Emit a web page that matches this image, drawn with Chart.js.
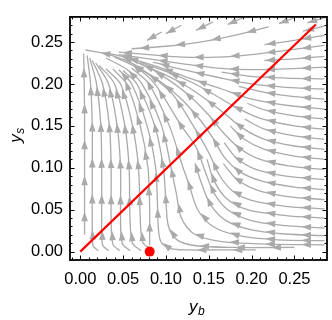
<!DOCTYPE html>
<html>
<head>
<meta charset="utf-8">
<script src="https://cdn.jsdelivr.net/npm/chart.js@4.4.1/dist/chart.umd.min.js"></script>
<style>
  html, body { margin: 0; padding: 0; background: #fff; }
  canvas { display: block; }
</style>
</head>
<body>
<canvas id="chart" width="332" height="320"></canvas>
<script>
// ── Data ─────────────────────────────────────────────────────
const xMajorTicks = [0, 0.05, 0.10, 0.15, 0.20, 0.25];
const yMajorTicks = [0, 0.05, 0.10, 0.15, 0.20, 0.25];
const minorTicks = [-0.01, 0.01, 0.02, 0.03, 0.04, 0.06, 0.07, 0.08, 0.09, 0.11, 0.12, 0.13, 0.14,
                    0.16, 0.17, 0.18, 0.19, 0.21, 0.22, 0.23, 0.24, 0.26, 0.27, 0.28];

const diagonalX = [0, 0.275];
const diagonalY = [0, 0.271];

const markerX = [0.081];
const markerY = [0];

// streamlines, each point list ordered in the flow direction
const risingLines = [
  [[0.005,0.02],[0.005,0.1],[0.005,0.17],[0.004,0.236]],
  [[0.021,0.001],[0.015,0.007],[0.014,0.03],[0.014,0.1],[0.014,0.15],[0.012,0.2],[0.008,0.234]],
  [[0.033,0.001],[0.026,0.008],[0.025,0.04],[0.025,0.1],[0.024,0.15],[0.019,0.2],[0.011,0.231]],
  [[0.046,0.001],[0.038,0.009],[0.036,0.04],[0.036,0.1],[0.034,0.15],[0.026,0.2],[0.014,0.228]],
  [[0.058,0.001],[0.049,0.01],[0.047,0.04],[0.047,0.1],[0.043,0.15],[0.033,0.2],[0.018,0.225]],
  [[0.071,0.001],[0.061,0.01],[0.058,0.04],[0.057,0.1],[0.052,0.15],[0.04,0.2],[0.022,0.222]],
  [[0.084,0.002],[0.073,0.011],[0.07,0.04],[0.068,0.1],[0.061,0.15],[0.047,0.2],[0.03,0.218]],
  [[0.081,0.008],[0.081,0.05],[0.079,0.1],[0.07,0.15],[0.054,0.2],[0.038,0.218]],
];

const bottomLines = [
  [[0.205,0.002],[0.16,0.002],[0.125,0.002],[0.104,0.004],[0.094,0.012],[0.091,0.03],[0.09,0.06],[0.088,0.1],[0.078,0.15],[0.06,0.2],[0.045,0.217]],
  [[0.25,0.005],[0.18,0.005],[0.135,0.007],[0.113,0.014],[0.103,0.03],[0.1,0.06],[0.097,0.1],[0.087,0.15],[0.066,0.2],[0.05,0.216]],
  [[0.285,0.008],[0.22,0.009],[0.165,0.012],[0.133,0.021],[0.118,0.04],[0.112,0.07],[0.106,0.1],[0.095,0.15],[0.072,0.2],[0.055,0.217],[0.03,0.231]],
];

const rightLines = [
  [[0.285,0.013],[0.23,0.014],[0.185,0.019],[0.155,0.03],[0.137,0.05],[0.127,0.08],[0.12,0.1],[0.104,0.15],[0.08,0.2],[0.06,0.219]],
  [[0.285,0.019],[0.24,0.021],[0.2,0.026],[0.17,0.037],[0.152,0.056],[0.142,0.08],[0.134,0.105]],
  [[0.285,0.028],[0.24,0.031],[0.2,0.037],[0.172,0.05],[0.156,0.07],[0.146,0.095],[0.135,0.125],[0.118,0.15],[0.087,0.2],[0.065,0.22],[0.04,0.232]],
  [[0.285,0.04],[0.24,0.043],[0.195,0.05],[0.17,0.064],[0.156,0.085],[0.148,0.11]],
  [[0.285,0.051],[0.24,0.054],[0.2,0.061],[0.177,0.073],[0.162,0.092],[0.15,0.118],[0.132,0.15],[0.11,0.185],[0.09,0.204],[0.07,0.218]],
  [[0.285,0.062],[0.24,0.066],[0.205,0.074],[0.182,0.087],[0.167,0.105]],
  [[0.285,0.074],[0.25,0.077],[0.212,0.084],[0.185,0.096],[0.168,0.113],[0.155,0.135],[0.14,0.157],[0.12,0.18],[0.101,0.197],[0.08,0.212],[0.058,0.226],[0.03,0.236],[0.006,0.2405]],
  [[0.285,0.086],[0.24,0.09],[0.205,0.098],[0.182,0.112],[0.168,0.13]],
  [[0.285,0.098],[0.245,0.102],[0.21,0.11],[0.185,0.124],[0.166,0.143],[0.148,0.165],[0.125,0.188],[0.1,0.207],[0.075,0.222],[0.05,0.232]],
  [[0.285,0.11],[0.25,0.114],[0.215,0.122],[0.19,0.135],[0.175,0.15]],
  [[0.285,0.122],[0.25,0.126],[0.215,0.134],[0.19,0.147],[0.168,0.165],[0.145,0.183],[0.12,0.2],[0.095,0.213],[0.065,0.226]],
  [[0.285,0.134],[0.25,0.138],[0.215,0.146],[0.192,0.158]],
  [[0.285,0.146],[0.25,0.15],[0.21,0.159],[0.18,0.173],[0.155,0.188],[0.13,0.202],[0.1,0.215],[0.07,0.226]],
  [[0.285,0.158],[0.25,0.162],[0.215,0.169],[0.195,0.177]],
  [[0.285,0.17],[0.245,0.174],[0.2,0.182],[0.165,0.194],[0.13,0.206],[0.095,0.219],[0.06,0.23],[0.03,0.237]],
  [[0.285,0.182],[0.25,0.185],[0.215,0.19],[0.185,0.197]],
  [[0.285,0.194],[0.24,0.196],[0.2,0.2],[0.16,0.208],[0.12,0.217],[0.085,0.226]],
  [[0.285,0.206],[0.24,0.207],[0.2,0.209],[0.165,0.214]],
];

const upperLines = [
  [[0.285,0.22],[0.24,0.218],[0.2,0.217],[0.16,0.219],[0.12,0.224],[0.08,0.23],[0.045,0.235]],
  [[0.285,0.233],[0.25,0.23],[0.215,0.228]],
  [[0.285,0.246],[0.24,0.24],[0.2,0.235],[0.16,0.232],[0.12,0.232],[0.08,0.235],[0.045,0.238]],
  [[0.285,0.258],[0.25,0.252],[0.215,0.247]],
  [[0.22,0.268],[0.18,0.258],[0.14,0.25],[0.1,0.245],[0.06,0.242]],
  [[0.285,0.269],[0.26,0.263]],
  [[0.285,0.279],[0.265,0.273]],
  [[0.25,0.279],[0.232,0.272]],
  [[0.19,0.279],[0.172,0.271]],
  [[0.155,0.274],[0.135,0.264]],
  [[0.118,0.27],[0.1,0.26]],
  [[0.095,0.262],[0.078,0.252]],
];

// ── Styling ──────────────────────────────────────────────────
const STREAM_COLOR = '#aaaaaa';
const LABEL_FONT = '"Liberation Sans", Arial, sans-serif';

function streamDataset(line) {
  return {
    data: line.map(([x, y]) => ({ x, y })),
    showLine: true,
    stream: true,
    borderColor: STREAM_COLOR,
    borderWidth: 1.3,
    pointRadius: 0,
    pointHoverRadius: 0,
    tension: 0.3,
  };
}

// Arrowheads along each streamline, every ~36px of path
const arrowPlugin = {
  id: 'streamArrows',
  afterDatasetDraw(chart, args) {
    const ds = chart.data.datasets[args.index];
    if (!ds.stream) return;
    const pts = args.meta.data.map(p => [p.x, p.y]);
    const cum = [0];
    for (let i = 1; i < pts.length; i++) {
      cum.push(cum[i - 1] + Math.hypot(pts[i][0] - pts[i - 1][0], pts[i][1] - pts[i - 1][1]));
    }
    const total = cum[cum.length - 1];
    const marks = [];
    if (total < 30) marks.push(total * 0.7);
    else for (let s = 18; s < total - 4; s += 36) marks.push(s);

    const ctx = chart.ctx;
    const a = chart.chartArea;
    ctx.save();
    ctx.beginPath();
    ctx.rect(a.left, a.top, a.right - a.left, a.bottom - a.top);
    ctx.clip();
    ctx.fillStyle = STREAM_COLOR;
    marks.forEach(s => {
      let i = 1;
      while (i < cum.length - 1 && cum[i] < s) i++;
      const seg = cum[i] - cum[i - 1] || 1;
      const t = (s - cum[i - 1]) / seg;
      const px = pts[i - 1][0] + (pts[i][0] - pts[i - 1][0]) * t;
      const py = pts[i - 1][1] + (pts[i][1] - pts[i - 1][1]) * t;
      const ang = Math.atan2(pts[i][1] - pts[i - 1][1], pts[i][0] - pts[i - 1][0]);
      ctx.save();
      ctx.translate(px, py);
      ctx.rotate(ang);
      ctx.beginPath();
      ctx.moveTo(5, 0);
      ctx.lineTo(-4.5, -3.3);
      ctx.lineTo(-4.5, 3.3);
      ctx.closePath();
      ctx.fill();
      ctx.restore();
    });
    ctx.restore();
  },
};

// Mathematica-style frame: black box, inward ticks on all four sides
const framePlugin = {
  id: 'frame',
  afterDraw(chart) {
    const { ctx, chartArea: a, scales } = chart;
    const xs = scales.x, ys = scales.y;
    ctx.save();
    ctx.strokeStyle = '#000';
    ctx.lineWidth = 1;
    const tick = (vals, len) => {
      vals.forEach(v => {
        const px = Math.round(xs.getPixelForValue(v)) + 0.5;
        ctx.beginPath();
        ctx.moveTo(px, a.bottom); ctx.lineTo(px, a.bottom - len);
        ctx.moveTo(px, a.top); ctx.lineTo(px, a.top + len);
        ctx.stroke();
        const py = Math.round(ys.getPixelForValue(v)) + 0.5;
        ctx.beginPath();
        ctx.moveTo(a.left, py); ctx.lineTo(a.left + len, py);
        ctx.moveTo(a.right, py); ctx.lineTo(a.right - len, py);
        ctx.stroke();
      });
    };
    tick(minorTicks, 2.5);
    tick(xMajorTicks, 4.5);
    ctx.lineWidth = 1.8;
    ctx.strokeRect(a.left, a.top, a.right - a.left, a.bottom - a.top);

    // axis titles: italic y with subscript
    const drawTitle = (main, sub, cx, cy) => {
      ctx.fillStyle = '#000';
      ctx.textBaseline = 'alphabetic';
      ctx.textAlign = 'left';
      ctx.font = `italic 17px ${LABEL_FONT}`;
      const w1 = ctx.measureText(main).width;
      ctx.font = `italic 12px ${LABEL_FONT}`;
      const w2 = ctx.measureText(sub).width;
      const x0 = cx - (w1 + w2) / 2;
      ctx.font = `italic 17px ${LABEL_FONT}`;
      ctx.fillText(main, x0, cy);
      ctx.font = `italic 12px ${LABEL_FONT}`;
      ctx.fillText(sub, x0 + w1 + 0.5, cy + 3);
    };
    drawTitle('y', 'b', (a.left + a.right) / 2 - 2, 312);
    ctx.save();
    ctx.translate(21, (a.top + a.bottom) / 2 - 3);
    ctx.rotate(-Math.PI / 2);
    drawTitle('y', 's', 0, 0);
    ctx.restore();
    ctx.restore();
  },
};

const datasets = [
  {
    data: markerX.map((x, i) => ({ x, y: markerY[i] })),
    pointRadius: 5,
    pointBackgroundColor: '#ff0000',
    pointBorderWidth: 0,
    showLine: false,
  },
  {
    data: diagonalX.map((x, i) => ({ x, y: diagonalY[i] })),
    showLine: true,
    borderColor: '#ff0000',
    borderWidth: 2.2,
    pointRadius: 0,
  },
  ...risingLines.map(streamDataset),
  ...bottomLines.map(streamDataset),
  ...rightLines.map(streamDataset),
  ...upperLines.map(streamDataset),
];

const tickFont = { family: LABEL_FONT, size: 16.5 };

new Chart(document.getElementById('chart'), {
  type: 'scatter',
  data: { datasets },
  plugins: [arrowPlugin, framePlugin],
  options: {
    responsive: false,
    animation: false,
    events: [],
    layout: { padding: { top: 2, right: 1, left: 0, bottom: 0 } },
    plugins: { legend: { display: false }, tooltip: { enabled: false } },
    scales: {
      x: {
        type: 'linear',
        min: -0.012,
        max: 0.288,
        afterBuildTicks: s => { s.ticks = xMajorTicks.map(v => ({ value: v })); },
        afterFit: s => { s.height = 60; },
        grid: { display: false, drawTicks: false },
        border: { display: false },
        ticks: { callback: v => v.toFixed(2), font: tickFont, color: '#000', padding: 10, maxRotation: 0, autoSkip: false },
      },
      y: {
        type: 'linear',
        min: -0.01,
        max: 0.28,
        afterBuildTicks: s => { s.ticks = yMajorTicks.map(v => ({ value: v })); },
        afterFit: s => { s.width = 70; },
        grid: { display: false, drawTicks: false },
        border: { display: false },
        ticks: { callback: v => v.toFixed(2), font: tickFont, color: '#000', padding: 7, autoSkip: false },
      },
    },
  },
});
</script>
</body>
</html>
